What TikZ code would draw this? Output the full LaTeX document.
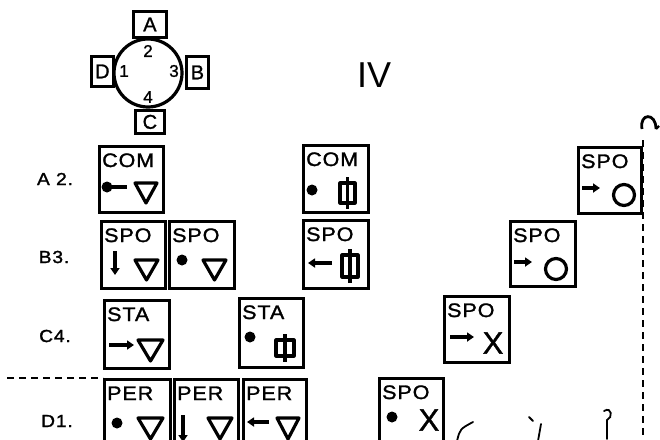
\documentclass[tikz,border=0pt]{standalone}
\usepackage{fontspec}
\newfontfamily\labfont[FakeStretch=1.1,LetterSpace=5,FakeBold=1.5]{Liberation Sans}
\newfontfamily\plainsans[FakeBold=1.2]{Liberation Sans}
\newfontfamily\thinsans{Liberation Sans}
\usetikzlibrary{arrows.meta}
\tikzset{
  frame/.style={draw, line width=3.4pt, inner sep=0pt, anchor=north west},
  boxlab/.style={inner sep=0pt, anchor=base west, font=\labfont\fontsize{19.5}{19.5}\selectfont},
  rowlab/.style={inner sep=0pt, font=\labfont\fontsize{17.5}{17.5}\selectfont},
  sym/.style={line width=3.2pt, line join=round},
  arr/.style={line width=3.4pt, -{Triangle[length=7pt,width=9pt]}},
  smallbox/.style={draw, line width=2.8pt, inner sep=0pt, anchor=north west},
  dashline/.style={line width=2.4pt, dash pattern=on 7pt off 5pt},
  scrib/.style={line width=1.8pt, line cap=round}
}
% helpers (relative to a box's north west corner, y downward)
\newcommand\mybox[6]{%
  \node[frame, minimum width=#4pt, minimum height=#5pt] (#1) at (#2,#3) {};
  \node[boxlab] (#1-t) at ([shift={(4,22)}]#1.north west) {#6};}
\newcommand\tri[5]{\draw[sym] ([shift={(#2,#3)}]#1.north west) -- ++(#4,0) -- ++(-#4/2,#5) -- cycle;}
\newcommand\bigdot[3]{\fill ([shift={(#2,#3)}]#1.north west) circle (5.5pt);}
\newcommand\valve[5]{\draw[sym] ([shift={(#2,#3)}]#1.north west) rectangle ++(#4,#5);
  \draw[sym] ([shift={(#2+#4/2,#3-6)}]#1.north west) -- ++(0,#5+12);}
\newcommand\rarr[4]{\draw[arr] ([shift={(#2,#4)}]#1.north west) -- ([shift={(#3,#4)}]#1.north west);}
\newcommand\varr[4]{\draw[arr] ([shift={(#2,#3)}]#1.north west) -- ([shift={(#2,#4)}]#1.north west);}
\newcommand\ring[4]{\draw[sym] ([shift={(#2,#3)}]#1.north west) circle (#4pt);}
\newcommand\xmark[3]{\node[inner sep=0pt, font=\plainsans\fontsize{31}{31}\selectfont] (#1-x) at ([shift={(#2,#3)}]#1.north west) {X};}
\begin{document}
\begin{tikzpicture}[x=1pt,y=-1pt]
\useasboundingbox (0,0) rectangle (660,439);
\fill[white] (0,0) rectangle (660,439);
\clip (0,0) rectangle (660,439);

% compass
\node[draw, circle, line width=3.2pt, minimum size=68pt, inner sep=0pt] (comp) at (148,73) {};
\node[smallbox, minimum width=33pt, minimum height=26pt] (bA) at (132,10) {};
\node[font=\plainsans\fontsize{20}{20}\selectfont, inner sep=0pt] (tA) at (bA.center) {A};
\node[smallbox, minimum width=22pt, minimum height=30pt] (bD) at (90,55) {};
\node[font=\plainsans\fontsize{20}{20}\selectfont, inner sep=0pt] (tD) at (bD.center) {D};
\node[smallbox, minimum width=22pt, minimum height=32pt] (bB) at (185,55) {};
\node[font=\plainsans\fontsize{20}{20}\selectfont, inner sep=0pt] (tB) at (bB.center) {B};
\node[smallbox, minimum width=29pt, minimum height=23pt] (bC) at (134,109) {};
\node[font=\plainsans\fontsize{20}{20}\selectfont, inner sep=0pt] (tC) at (bC.center) {C};
\node[font=\plainsans\fontsize{17}{17}\selectfont, inner sep=0pt] (n2) at (148,51) {2};
\node[font=\plainsans\fontsize{17}{17}\selectfont, inner sep=0pt] (n1) at (124,71) {1};
\node[font=\plainsans\fontsize{17}{17}\selectfont, inner sep=0pt] (n3) at (174,71) {3};
\node[font=\plainsans\fontsize{17}{17}\selectfont, inner sep=0pt] (n4) at (148,97) {4};

% title
\node[font=\thinsans\fontsize{36}{36}\selectfont, inner sep=0pt] (title) at (374,75) {IV};

% row labels
\node[rowlab] (rA) at (55,179) {A 2.};
\node[rowlab] (rB) at (54,257) {B3.};
\node[rowlab] (rC) at (55,336) {C4.};
\node[rowlab] (rD) at (57,421) {D1.};

% row A2
\mybox{a2a}{98}{145}{64}{66}{COM}
\draw[sym] ([shift={(9,42)}]a2a.north west) -- ([shift={(29,42)}]a2a.north west);
\bigdot{a2a}{9}{42}
\tri{a2a}{37}{38}{22}{20}

\mybox{a2b}{302}{144}{65}{67}{COM}
\bigdot{a2b}{10}{46}
\valve{a2b}{38}{39}{15}{20}

\mybox{a2c}{577}{146}{63}{66}{SPO}
\rarr{a2c}{5}{23}{42}
\ring{a2c}{47}{49}{10.5}

% row B3
\mybox{b3a}{100}{220}{64}{67}{SPO}
\varr{b3a}{15}{31}{55}
\tri{b3a}{35}{40}{23}{20}

\mybox{b3b}{168}{220}{65}{67}{SPO}
\bigdot{b3b}{14}{40}
\tri{b3b}{35}{40}{23}{20}

\mybox{b3c}{302}{219}{65}{68}{SPO}
\rarr{b3c}{30}{6}{44}
\valve{b3c}{40}{36}{16}{22}

\mybox{b3d}{509}{220}{65}{65}{SPO}
\rarr{b3d}{5}{23}{42}
\ring{b3d}{47}{49}{10.5}

% row C4
\mybox{c4a}{103}{299}{65}{68}{STA}
\rarr{c4a}{6}{31}{46}
\tri{c4a}{35}{41}{25}{21}

\mybox{c4b}{238}{297}{64}{69}{STA}
\bigdot{c4b}{12}{40}
\valve{c4b}{38}{43}{18}{16}

\mybox{c4c}{443}{295}{65}{66}{SPO}
\rarr{c4c}{7}{31}{42}
\xmark{c4c}{50}{48}

% row D1
\mybox{d1a}{103}{378}{66}{75}{PER}
\bigdot{d1a}{14}{45}
\tri{d1a}{35}{40}{25}{21}

\mybox{d1b}{173}{378}{64}{75}{PER}
\varr{d1b}{10}{37}{64}
\tri{d1b}{35}{40}{24}{21}

\mybox{d1c}{242}{378}{63}{75}{PER}
\rarr{d1c}{27}{5}{44}
\tri{d1c}{35}{40}{22}{21}

\mybox{d1d}{378}{377}{64}{75}{SPO}
\bigdot{d1d}{14}{40}
\xmark{d1d}{51}{43}

% dashed lines
\coordinate (hl) at (7,0);
\draw[dashline] (hl |- d1a.north west) -- (d1a.north west);
\coordinate (vt) at (643,140);
\coordinate (vb) at (643,445);
\draw[dashline] (vt) -- (vb);
\coordinate (h1) at (642,129);
\coordinate (h2) at (656,129);
\draw[line width=2.8pt] (h1) .. controls (639,113) and (656,112) .. (h2);
\draw[line width=2.2pt] (h2) -- ++(3,-3);

% scribbles
\coordinate (s1) at (457,441);
\coordinate (s2) at (473,422);
\draw[scrib] (s1) .. controls (460,429) .. (s2);
\coordinate (s3) at (529,417);
\coordinate (s4) at (533,421);
\draw[scrib] (s3) -- (s4);
\coordinate (s5) at (541,424);
\coordinate (s6) at (538,441);
\draw[scrib] (s5) -- (s6);
\coordinate (s7) at (604,411);
\coordinate (s8) at (607,439);
\draw[scrib] (s7) .. controls (612,406) and (613,418) .. (607,420) -- (s8);
\end{tikzpicture}
\end{document}
